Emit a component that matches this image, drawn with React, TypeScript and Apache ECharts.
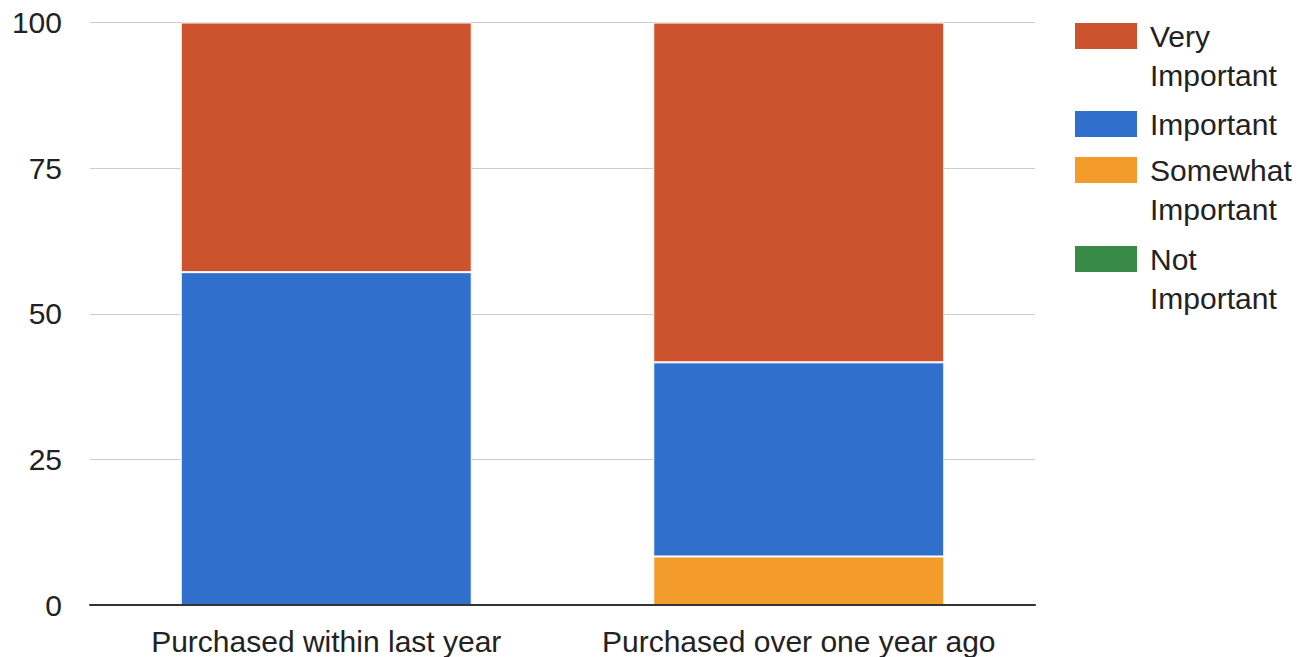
import React, { useEffect, useRef } from "react";
import * as echarts from "echarts";

const categories = ["Purchased within last year", "Purchased over one year ago"];
const seriesNames = ["Not Important", "Somewhat Important", "Important", "Very Important"];
const notImportant = [0, 0];
const somewhatImportant = [0, 8.33];
const important = [57.14, 33.33];
const veryImportant = [42.86, 58.33];
const yTicks = [0, 25, 50, 75, 100];
const colors = ["#3a8a47", "#f39c2c", "#3070cc", "#cd522e"];
const legendLabels: Record<string, string> = {
  "Very Important": "Very\nImportant",
  "Important": "Important",
  "Somewhat Important": "Somewhat\nImportant",
  "Not Important": "Not\nImportant",
};

const FONT = "'Liberation Sans', Arial, sans-serif";

export default function App() {
  const ref = useRef<HTMLDivElement>(null);
  useEffect(() => {
    if (!ref.current) return;
    const chart = echarts.init(ref.current, null, { renderer: "svg" });
    const values = [notImportant, somewhatImportant, important, veryImportant];
    const series = seriesNames.map((name, i) => ({
      name,
      type: "bar",
      stack: "total",
      barWidth: 291,
      data: values[i],
      itemStyle: { color: colors[i], borderColor: "#ffffff", borderWidth: 1 },
    }));
    const lineH = 39;
    const legendItem = (name: string, iconTop: number) => {
      const twoLine = legendLabels[name].includes("\n");
      // two-line labels get an empty leading line so the first line sits beside the icon
      const top = twoLine ? iconTop - (3 * lineH) / 2 + 13 : iconTop - lineH / 2 + 13;
      return {
        left: 1075,
        top,
        padding: 0,
        orient: "vertical",
        data: [name],
        icon: "rect",
        itemWidth: 62,
        itemHeight: 26,
        selectedMode: false,
        itemStyle: { borderWidth: 0 },
        formatter: (n: string) => (twoLine ? "\n" : "") + legendLabels[n],
        textStyle: {
          fontFamily: FONT,
          fontSize: 30,
          color: "#222",
          lineHeight: lineH,
          padding: [0, 0, 0, 8],
        },
      };
    };
    chart.setOption({
      animation: false,
      grid: { left: 90, right: 263, top: 22.5, bottom: 52 },
      legend: [
        legendItem("Very Important", 23),
        legendItem("Important", 111),
        legendItem("Somewhat Important", 157),
        legendItem("Not Important", 246),
      ],
      xAxis: {
        type: "category",
        data: categories,
        z: 5,
        axisLine: { lineStyle: { color: "#333", width: 2 } },
        axisTick: { show: false },
        axisLabel: { fontFamily: FONT, fontSize: 30, color: "#222", margin: 21, interval: 0 },
      },
      yAxis: {
        type: "value",
        min: yTicks[0],
        max: yTicks[yTicks.length - 1],
        interval: 25,
        axisLine: { show: false },
        axisTick: { show: false },
        splitLine: { lineStyle: { color: "#cccccc", width: 1 } },
        axisLabel: { fontFamily: FONT, fontSize: 30, color: "#222", margin: 28 },
      },
      series,
    });
    return () => chart.dispose();
  }, []);
  return (
    <div
      ref={ref}
      style={{ position: "fixed", left: 0, top: 0, width: 1298, height: 657, background: "#fff" }}
    />
  );
}
